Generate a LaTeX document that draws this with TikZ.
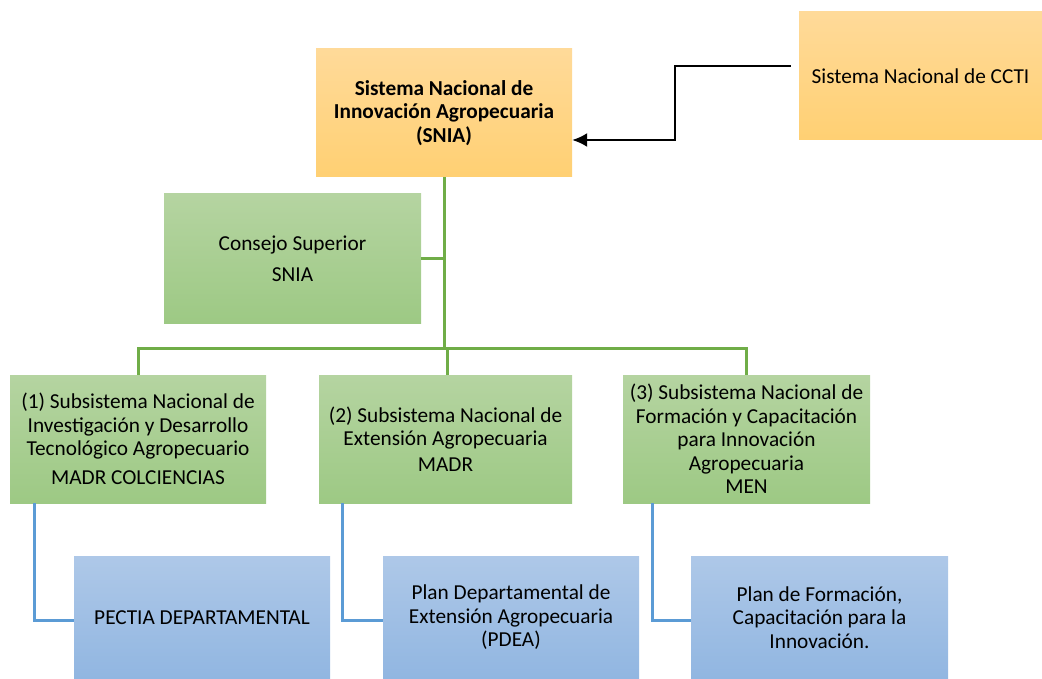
\documentclass[tikz,border=0pt]{standalone}
\usepackage{fontspec}
\setmainfont{Carlito}
\usetikzlibrary{arrows.meta}
\definecolor{orT}{RGB}{255,218,153}
\definecolor{orB}{RGB}{255,208,115}
\definecolor{grT}{RGB}{181,212,161}
\definecolor{grB}{RGB}{157,201,132}
\definecolor{blT}{RGB}{174,200,232}
\definecolor{blB}{RGB}{145,182,225}
\definecolor{grLine}{RGB}{112,173,71}
\definecolor{blLine}{RGB}{91,155,213}
\tikzset{
  box/.style={inner sep=0pt, align=center, font=\fontsize{21.3}{23.5}\selectfont},
  orbox/.style={box, top color=orT, bottom color=orB},
  grbox/.style={box, top color=grT, bottom color=grB},
  blbox/.style={box, top color=blT, bottom color=blB},
  grlink/.style={draw=grLine, line width=3pt},
  bllink/.style={draw=blLine, line width=3pt},
  arrowlink/.style={draw=black, line width=2pt, -{Latex[length=15pt,width=14pt]}}
}
\begin{document}
\begin{tikzpicture}[x=1pt,y=-1pt]
\useasboundingbox (0,0) rectangle (1042,679);
% boxes
\node[orbox, minimum width=256pt, minimum height=128pt] (snia) at (444,113)
  {\bfseries Sistema Nacional de\\\bfseries Innovación Agropecuaria\\\bfseries (SNIA)};
\node[orbox, minimum width=243pt, minimum height=128pt] (ccti) at (920.5,76)
  {Sistema Nacional de CCTI};
\node[grbox, minimum width=257pt, minimum height=129pt] (consejo) at (292.5,258.5)
  {Consejo Superior\\[8pt]SNIA};
\node[grbox, minimum width=256pt, minimum height=128pt] (sub1) at (138,439)
  {(1) Subsistema Nacional de\\Investigación y Desarrollo\\Tecnológico Agropecuario\\[5pt]MADR COLCIENCIAS};
\node[grbox, minimum width=253pt, minimum height=128pt] (sub2) at (445.5,439)
  {(2) Subsistema Nacional de\\Extensión Agropecuaria\\[2pt]MADR};
\node[grbox, minimum width=247pt, minimum height=128pt] (sub3) at (746.5,439)
  {(3) Subsistema Nacional de\\Formación y Capacitación\\para Innovación\\Agropecuaria\\MEN};
\node[blbox, minimum width=256pt, minimum height=123pt] (pectia) at (202,617.5)
  {PECTIA DEPARTAMENTAL};
\node[blbox, minimum width=256pt, minimum height=123pt] (pdea) at (511,617.5)
  {Plan Departamental de\\Extensión Agropecuaria\\(PDEA)};
\node[blbox, minimum width=257pt, minimum height=123pt] (pform) at (819.5,617.5)
  {Plan de Formación,\\Capacitación para la\\Innovación.};
% green tree
\coordinate (bus) at (444,348);
\draw[grlink] (snia.south) -- (bus);
\draw[grlink] (consejo.east) -- (consejo.east -| snia.south);
\draw[grlink] (sub1.north) |- (bus) -| (sub3.north);
\draw[grlink] ([xshift=1.5pt]sub2.north) -- ([xshift=1.5pt]sub2.north |- bus);
% blue links
\draw[bllink] ([xshift=25pt]sub1.south west) |- ([yshift=-2.5pt]pectia.west);
\draw[bllink] ([xshift=24pt]sub2.south west) |- ([yshift=-2.5pt]pdea.west);
\draw[bllink] ([xshift=30pt]sub3.south west) |- ([yshift=-2.5pt]pform.west);
% arrow
\draw[arrowlink] ([xshift=-8pt,yshift=10pt]ccti.west) -- ++(-116,0) |- ([yshift=-27pt]snia.east);
\end{tikzpicture}
\end{document}
